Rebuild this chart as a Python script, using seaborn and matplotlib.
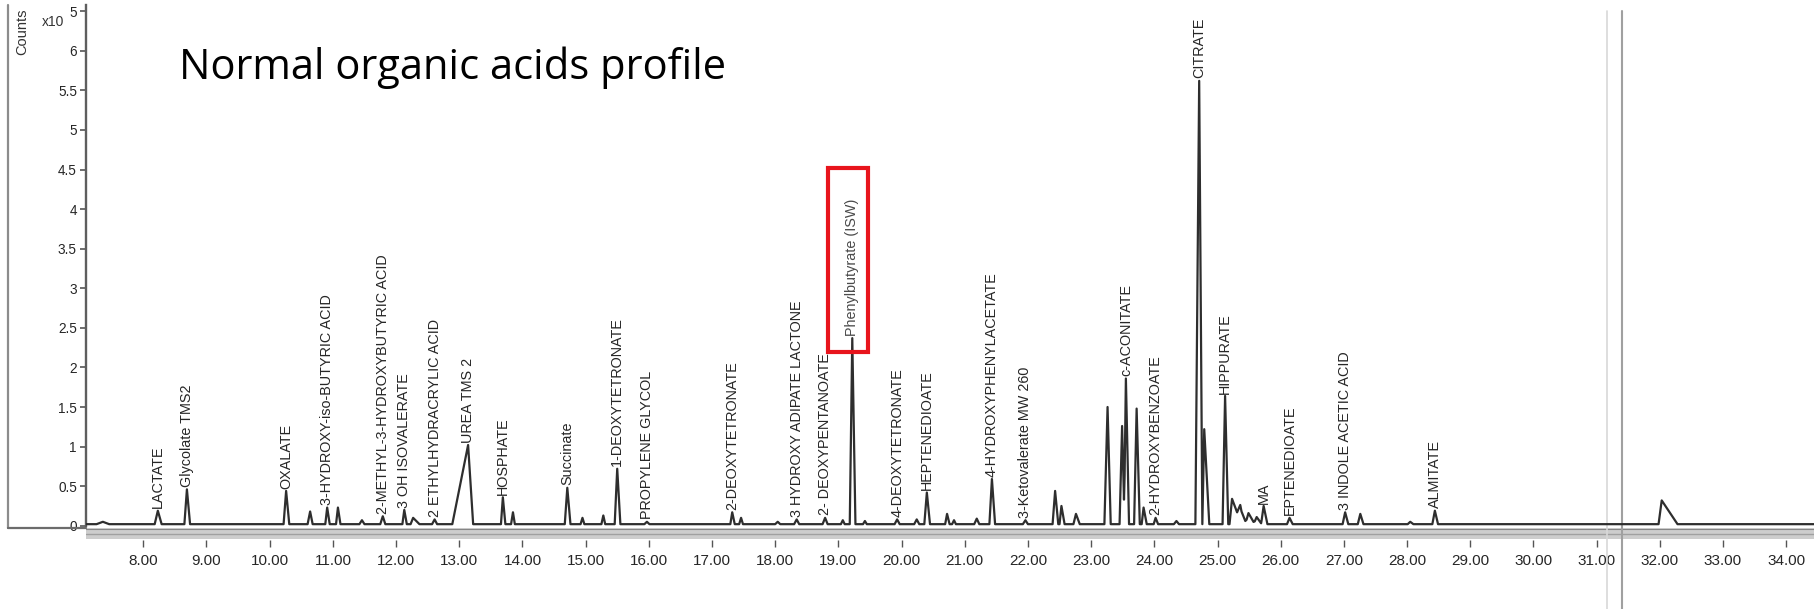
import matplotlib
matplotlib.use("Agg")
import matplotlib.pyplot as plt
from matplotlib import font_manager
from matplotlib.lines import Line2D
from matplotlib.patches import Rectangle
import numpy as np
import pandas as pd
import seaborn as sns

# --- DATA (counts in x10^5) ---

peak_rt = [7.36, 8.23, 8.69, 10.26, 10.64, 10.91, 11.08, 11.46, 11.79, 12.13,
           12.27, 12.61, 13.14, 13.69, 13.85, 14.71, 14.95, 15.28, 15.50, 15.97,
           17.32, 17.46, 18.04, 18.34, 18.79, 19.07, 19.22, 19.42, 19.93, 20.24,
           20.40, 20.72, 20.83, 21.19, 21.43, 21.96, 22.43, 22.53, 22.76, 23.26,
           23.49, 23.55, 23.72, 23.83, 24.02, 24.35, 24.71, 24.79, 25.12, 25.23,
           25.36, 25.49, 25.62, 25.73, 26.14, 27.02, 27.26, 28.05, 28.44, 32.03]
peak_height = [0.03, 0.17, 0.44, 0.42, 0.16, 0.21, 0.21, 0.05, 0.10, 0.18,
               0.08, 0.06, 1.00, 0.34, 0.15, 0.46, 0.08, 0.11, 0.70, 0.03,
               0.15, 0.08, 0.03, 0.06, 0.08, 0.05, 2.35, 0.04, 0.06, 0.06,
               0.40, 0.13, 0.05, 0.07, 0.57, 0.05, 0.42, 0.23, 0.13, 1.48,
               1.24, 1.84, 1.46, 0.21, 0.08, 0.04, 5.60, 1.20, 1.62, 0.32,
               0.20, 0.14, 0.09, 0.23, 0.08, 0.15, 0.13, 0.03, 0.17, 0.30]
# peak shape: minutes from start to apex, and from apex to end
peak_rise = [0.10, 0.05, 0.04, 0.04, 0.04, 0.03, 0.03, 0.04, 0.04, 0.03,
             0.04, 0.04, 0.25, 0.03, 0.03, 0.04, 0.03, 0.03, 0.04, 0.04,
             0.03, 0.03, 0.04, 0.04, 0.04, 0.03, 0.04, 0.03, 0.04, 0.04,
             0.04, 0.03, 0.03, 0.04, 0.04, 0.04, 0.04, 0.03, 0.04, 0.05,
             0.04, 0.03, 0.04, 0.03, 0.03, 0.04, 0.06, 0.03, 0.04, 0.04,
             0.05, 0.05, 0.05, 0.04, 0.04, 0.04, 0.04, 0.04, 0.04, 0.05]
peak_fall = [0.10, 0.06, 0.05, 0.05, 0.04, 0.04, 0.04, 0.04, 0.04, 0.04,
             0.10, 0.04, 0.08, 0.04, 0.03, 0.05, 0.03, 0.03, 0.05, 0.04,
             0.04, 0.03, 0.04, 0.04, 0.04, 0.03, 0.05, 0.03, 0.04, 0.04,
             0.05, 0.04, 0.03, 0.04, 0.05, 0.04, 0.05, 0.05, 0.06, 0.05,
             0.04, 0.05, 0.05, 0.05, 0.04, 0.04, 0.05, 0.08, 0.05, 0.15,
             0.10, 0.10, 0.08, 0.06, 0.05, 0.05, 0.05, 0.05, 0.05, 0.25]
peak_label = ["", "LACTATE", "Glycolate TMS2", "OXALATE", "",
              "3-HYDROXY-iso-BUTYRIC ACID", "", "", "2-METHYL-3-HYDROXYBUTYRIC ACID",
              "3 OH ISOVALERATE", "", "2 ETHYLHYDRACRYLIC ACID", "UREA TMS 2",
              "HOSPHATE", "", "Succinate", "", "", "1-DEOXYTETRONATE",
              "PROPYLENE GLYCOL", "2-DEOXYTETRONATE", "", "",
              "3 HYDROXY ADIPATE LACTONE", "2- DEOXYPENTANOATE", "",
              "Phenylbutyrate (ISW)", "", "4-DEOXYTETRONATE", "", "HEPTENEDIOATE",
              "", "", "", "4-HYDROXYPHENYLACETATE", "3-Ketovalerate MW 260",
              "", "", "", "", "", "c-ACONITATE", "", "", "2-HYDROXYBENZOATE", "",
              "CITRATE", "", "HIPPURATE", "", "", "", "", "MA", "EPTENEDIOATE",
              "3 INDOLE ACETIC ACID", "", "", "ALMITATE", ""]

x_ticks = list(range(8, 35))
y_ticks = [0, 0.5, 1, 1.5, 2, 2.5, 3, 3.5, 4, 4.5, 5, 5.5, 6, 6.5]
y_tick_labels = ["0", "0.5", "1", "1.5", "2", "2.5", "3", "3.5", "4", "4.5",
                 "5", "5.5", "6", "5"]
baseline = 0.02
x_min, x_max = 7.093, 34.44

# --- build the trace from the peak table (triangular peaks on a flat baseline) ---

rt = np.array(peak_rt)
h = np.array(peak_height)
rise = np.array(peak_rise)
fall = np.array(peak_fall)
knots = np.unique(np.concatenate([[x_min, x_max], rt - rise, rt, rt + fall]))
counts = np.full(knots.shape, baseline)
for r, hh, a, b in zip(rt, h, rise, fall):
    left = hh * (1 - (r - knots) / a)
    right = hh * (1 - (knots - r) / b)
    counts += np.clip(np.where(knots <= r, left, right), 0, None)
trace = pd.DataFrame({"rt": knots, "counts": counts})

# --- plot ---

sns.set_theme(style="white")
names = {f.name for f in font_manager.fontManager.ttflist}
narrow = "Liberation Sans Narrow" if "Liberation Sans Narrow" in names else "Liberation Sans"
plt.rcParams["font.family"] = ["Liberation Sans", "DejaVu Sans"]

W, H = 1814, 609
fig = plt.figure(figsize=(W / 100, H / 100), dpi=100, facecolor="white")
ax = fig.add_axes([86 / W, 1 - 540 / H, 1 - 86 / W, (540 - 11.2) / H])

ax.axhspan(-0.17, -0.03, color="#cdcdcd", lw=0, zorder=1)
ax.axhline(-0.10, color="#a0a0a0", lw=1.0, zorder=1)
ax.axhline(-0.045, color="#858585", lw=0.8, zorder=1)

sns.lineplot(data=trace, x="rt", y="counts", estimator=None, sort=False,
             color="#2e2e2e", lw=1.6, ax=ax, zorder=3)

for r, hh, name in zip(peak_rt, peak_height, peak_label):
    if name:
        ax.text(r, hh + 0.05, name, rotation=90, ha="center", va="bottom",
                fontsize=10.4, color="#262626" if "ISW" not in name else "#4a4a4a",
                zorder=4)

ax.add_patch(Rectangle((18.84, 2.2), 0.635, 2.32, fill=False, ec="#e8141c",
                       lw=3, zorder=5))

ax.axvline(31.17, ymin=-0.14, ymax=1.0, color="#d8d8d8", lw=1.2, clip_on=False)
ax.axvline(31.40, ymin=-0.14, ymax=1.0, color="#a0a0a0", lw=1.5, clip_on=False)

ax.set_xlim(x_min, x_max)
ax.set_ylim(-0.18, 6.5)
ax.set_xticks(x_ticks)
ax.set_xticklabels([f"{t:.2f}" for t in x_ticks], fontsize=13 if narrow != "Liberation Sans" else 11,
                   family=narrow, color="#262626")
ax.set_yticks(y_ticks)
ax.set_yticklabels(y_tick_labels, fontsize=11 if narrow != "Liberation Sans" else 9.8,
                   family=narrow, color="#262626")
ax.tick_params(axis="x", direction="out", length=5, width=1, color="#555555", pad=5, bottom=True)
ax.tick_params(axis="y", direction="out", length=4.5, width=1.2, color="#555555", pad=2, left=True)
ax.set_xlabel("")
ax.set_ylabel("")
for side in ["top", "right", "bottom"]:
    ax.spines[side].set_visible(False)
ax.spines["left"].set_color("#5e5e5e")
ax.spines["left"].set_linewidth(1.7)
ax.spines["left"].set_bounds(0, 6.58)
ax.patch.set_alpha(0)

# outer frame of the instrument window
fig.add_artist(Line2D([8 / W, 8 / W], [1 - 5 / H, 1 - 528 / H], transform=fig.transFigure,
                      color="#8c8c8c", lw=1.6))
fig.add_artist(Line2D([8 / W, 86 / W], [1 - 528 / H, 1 - 528 / H], transform=fig.transFigure,
                      color="#6c6c6c", lw=1.6))

fig.text(22 / W, 1 - 32 / H, "Counts", rotation=90, ha="center", va="center",
         fontsize=10.5, color="#333333")
fig.text(53 / W, 1 - 22 / H, "x10", ha="center", va="center", fontsize=10,
         color="#333333")

fig.text(179 / W, 1 - 79 / H, "Normal organic acids profile", ha="left", va="baseline",
         fontsize=30, family=["Open Sans", "DejaVu Sans"], color="black")

fig.savefig("out.png", dpi=100, facecolor="white")
